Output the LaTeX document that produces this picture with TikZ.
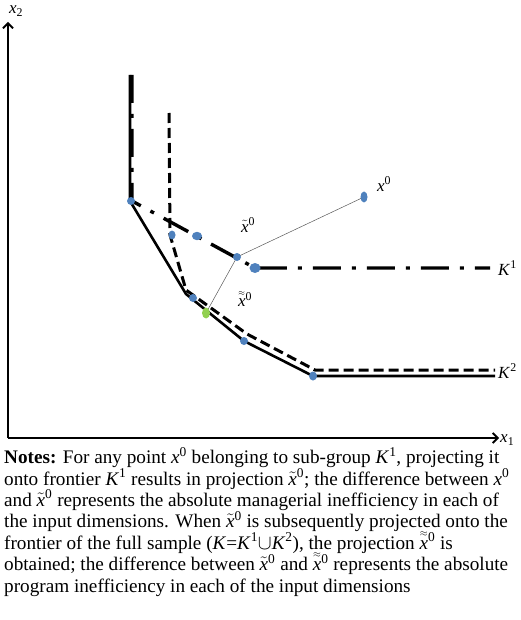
\documentclass[tikz,border=0pt]{standalone}
\usepackage{amsmath}
\usepackage{fontspec}
\setmainfont{Liberation Serif}
\usetikzlibrary{arrows.meta}
\newcommand\xtil{$\tilde{\textit{x}}$\textsuperscript{0}}
\newcommand\xdtil{$\overset{\scriptscriptstyle\approx}{\textit{x}}$\textsuperscript{0}}
\newcommand\xo{\textit{x}\textsuperscript{0}}
\newcommand\Ko{\textit{K}\textsuperscript{1}}
\newcommand\Kt{\textit{K}\textsuperscript{2}}
\newcommand\notesfont{\fontsize{19.2}{21.4}\selectfont\setlength{\lineskiplimit}{-30pt}}
\definecolor{dotblue}{HTML}{4F81BD}
\definecolor{dotgreen}{HTML}{92D050}
\begin{document}
\begin{tikzpicture}[x=1pt,y=-1pt,
  axis/.style={line width=1.8pt,-{Straight Barb[length=5pt,width=10pt,line width=1.8pt]}},
  fullK/.style={line width=2.6pt,line join=miter},
  kone/.style={line width=3.4pt,dash pattern=on 28pt off 11pt on 4pt off 11pt},
  ktwo/.style={line width=3pt,dash pattern=on 10pt off 5pt},
  proj/.style={line width=0.5pt,gray!70!black},
  lbl/.style={font=\fontsize{17}{19}\selectfont,inner sep=1pt},
  bdot/.style={fill=dotblue},
]
\useasboundingbox (0,0) rectangle (520,620);
% axes
\coordinate (O) at (8,438);
\coordinate (Ytop) at (8,22);
\coordinate (Xend) at (499,438);
\draw[axis] (O) -- (Ytop);
\draw[axis] (O) -- (Xend);
\node[lbl,anchor=west] (lx1) at (499,440) {\textit{x}\textsubscript{1}};
\node[lbl] (lx2) at (16,11) {\textit{x}\textsubscript{2}};
% points
\coordinate (Atop) at (130,75);
\coordinate (A) at (130,201);
\coordinate (Ktop) at (132,75);
\coordinate (Kv) at (132,201);
\coordinate (Btop) at (169,113);
\coordinate (B) at (170,235);
\coordinate (C) at (197,236);
\coordinate (XT) at (237,257);
\coordinate (D) at (255,268);
\coordinate (Kend) at (490,268);
\coordinate (E) at (186,294);
\coordinate (Ed) at (186,290);
\coordinate (F) at (244,341);
\coordinate (Fd) at (247,334);
\coordinate (H) at (313,376);
\coordinate (Hd) at (315,370);
\coordinate (Hend) at (495,376);
\coordinate (Hdend) at (495,370);
\coordinate (G) at (206,313);
\coordinate (X0) at (364,197);
% full-sample frontier K (solid)
\draw[fullK] (Atop) -- (A) -- (E) -- (F) -- (H) -- (Hend);
% K1 frontier (dash-dot)
\draw[kone] (Ktop) -- (Kv) -- (D) -- (Kend);
% K2 frontier (dashed)
\draw[ktwo] (Btop) -- (B) -- (Ed) -- (Fd) -- (Hd) -- (Hdend);
% projections
\draw[proj] (X0) -- (XT) -- (G);
% dots
\fill[bdot] (131,201) ellipse [x radius=4pt,y radius=4pt];
\fill[bdot] (172,235) ellipse [x radius=3.5pt,y radius=4.5pt];
\fill[bdot] (C) ellipse [x radius=5pt,y radius=4.2pt];
\fill[bdot] (XT) ellipse [x radius=4pt,y radius=4pt];
\fill[bdot] (D) ellipse [x radius=5.5pt,y radius=5pt];
\fill[bdot] (193,298) ellipse [x radius=4pt,y radius=4pt];
\fill[bdot] (F) ellipse [x radius=4pt,y radius=4pt];
\fill[bdot] (H) ellipse [x radius=4pt,y radius=4.5pt];
\fill[bdot] (X0) ellipse [x radius=3.5pt,y radius=5.5pt];
\fill[dotgreen] (G) ellipse [x radius=4pt,y radius=5.5pt];
% labels
\node[lbl] (lxt) at (248,225) {\xtil};
\node[lbl] (lxdt) at (245,298) {\xdtil};
\node[lbl] (lx0) at (384,184) {\xo};
\node[lbl,anchor=west] (lk1) at (497,268) {\Ko};
\node[lbl,anchor=west] (lk2) at (497,371) {\Kt};
% notes
\node[anchor=north west,align=left,inner sep=0pt,font=\notesfont] (notes) at (4,447) {%
\textbf{Notes:} For any point \xo{} belonging to sub-group \Ko, projecting it\\
onto frontier \Ko{} results in projection \xtil; the difference between \xo\\
and \xtil{} represents the absolute managerial inefficiency in each of\\
the input dimensions. When \xtil{} is subsequently projected onto the\\
frontier of the full sample (\textit{K}=\Ko$\cup$\Kt), the projection \xdtil{} is\\
obtained; the difference between \xtil{} and \xdtil{} represents the absolute\\
program inefficiency in each of the input dimensions};
\end{tikzpicture}
\end{document}
